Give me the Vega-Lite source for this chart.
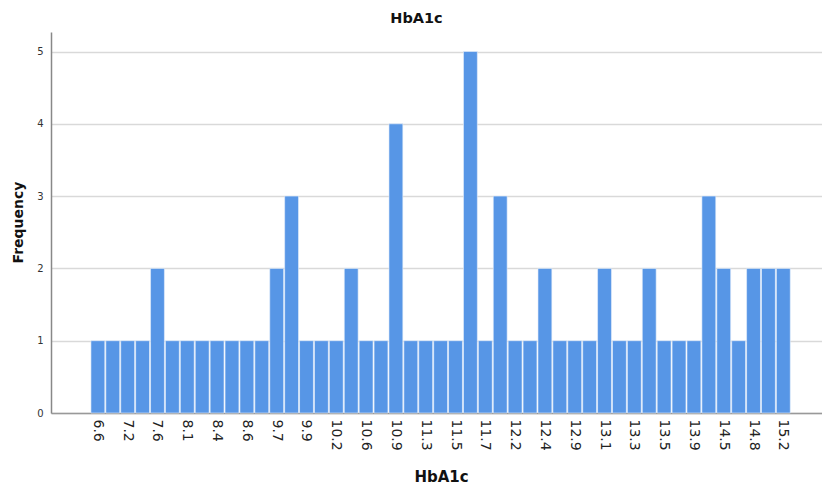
{
  "$schema": "https://vega.github.io/schema/vega-lite/v6.json",
  "autosize": "none",
  "width": 771,
  "height": 381,
  "padding": {"left": 51, "top": 32, "right": 0, "bottom": 73},
  "background": "white",
  "title": {"text": "HbA1c", "fontSize": 14.5, "font": "DejaVu Sans", "fontWeight": "bold", "color": "#111111", "anchor": "middle", "dx": -20, "offset": 6},
  "data": {"values": [
    {"HbA1c": 6.6, "Frequency": 1},
    {"HbA1c": 6.9, "Frequency": 1},
    {"HbA1c": 7.2, "Frequency": 1},
    {"HbA1c": 7.4, "Frequency": 1},
    {"HbA1c": 7.6, "Frequency": 2},
    {"HbA1c": 7.9, "Frequency": 1},
    {"HbA1c": 8.1, "Frequency": 1},
    {"HbA1c": 8.2, "Frequency": 1},
    {"HbA1c": 8.4, "Frequency": 1},
    {"HbA1c": 8.5, "Frequency": 1},
    {"HbA1c": 8.6, "Frequency": 1},
    {"HbA1c": 9.2, "Frequency": 1},
    {"HbA1c": 9.7, "Frequency": 2},
    {"HbA1c": 9.8, "Frequency": 3},
    {"HbA1c": 9.9, "Frequency": 1},
    {"HbA1c": 10.0, "Frequency": 1},
    {"HbA1c": 10.2, "Frequency": 1},
    {"HbA1c": 10.4, "Frequency": 2},
    {"HbA1c": 10.6, "Frequency": 1},
    {"HbA1c": 10.8, "Frequency": 1},
    {"HbA1c": 10.9, "Frequency": 4},
    {"HbA1c": 11.1, "Frequency": 1},
    {"HbA1c": 11.3, "Frequency": 1},
    {"HbA1c": 11.4, "Frequency": 1},
    {"HbA1c": 11.5, "Frequency": 1},
    {"HbA1c": 11.6, "Frequency": 5},
    {"HbA1c": 11.7, "Frequency": 1},
    {"HbA1c": 12.0, "Frequency": 3},
    {"HbA1c": 12.2, "Frequency": 1},
    {"HbA1c": 12.3, "Frequency": 1},
    {"HbA1c": 12.4, "Frequency": 2},
    {"HbA1c": 12.6, "Frequency": 1},
    {"HbA1c": 12.9, "Frequency": 1},
    {"HbA1c": 13.0, "Frequency": 1},
    {"HbA1c": 13.1, "Frequency": 2},
    {"HbA1c": 13.2, "Frequency": 1},
    {"HbA1c": 13.3, "Frequency": 1},
    {"HbA1c": 13.4, "Frequency": 2},
    {"HbA1c": 13.5, "Frequency": 1},
    {"HbA1c": 13.7, "Frequency": 1},
    {"HbA1c": 13.9, "Frequency": 1},
    {"HbA1c": 14.2, "Frequency": 3},
    {"HbA1c": 14.5, "Frequency": 2},
    {"HbA1c": 14.6, "Frequency": 1},
    {"HbA1c": 14.8, "Frequency": 2},
    {"HbA1c": 15.0, "Frequency": 2},
    {"HbA1c": 15.2, "Frequency": 2}
  ]},
  "mark": {"type": "bar", "color": "#5796e6", "stroke": "#e8f0fb", "strokeWidth": 0.6},
  "encoding": {
    "x": {
      "field": "HbA1c",
      "type": "ordinal",
      "scale": {
        "domain": [6.2, 6.4, 6.6, 6.9, 7.2, 7.4, 7.6, 7.9, 8.1, 8.2, 8.4, 8.5, 8.6, 9.2, 9.7, 9.8, 9.9, 10.0, 10.2, 10.4, 10.6, 10.8, 10.9, 11.1, 11.3, 11.4, 11.5, 11.6, 11.7, 12.0, 12.2, 12.3, 12.4, 12.6, 12.9, 13.0, 13.1, 13.2, 13.3, 13.4, 13.5, 13.7, 13.9, 14.2, 14.5, 14.6, 14.8, 15.0, 15.2, 15.4, 15.6],
        "paddingInner": 0.07, "paddingOuter": 0.405, "align": 0.84
      },
      "axis": {
        "values": [6.6, 7.2, 7.6, 8.1, 8.4, 8.6, 9.7, 9.9, 10.2, 10.6, 10.9, 11.3, 11.5, 11.7, 12.2, 12.4, 12.9, 13.1, 13.3, 13.5, 13.9, 14.5, 14.8, 15.2],
        "labelAngle": 90,
        "labelAlign": "left",
        "labelBaseline": "middle",
        "labelFont": "DejaVu Sans",
        "labelFontSize": 14,
        "labelColor": "#222222",
        "labelPadding": 6,
        "ticks": false,
        "domainColor": "#999999",
        "domainWidth": 1.5,
        "title": "HbA1c",
        "titleFont": "DejaVu Sans",
        "titleFontSize": 15,
        "titleFontWeight": "bold",
        "titleColor": "#111111",
        "titleY": 63,
        "titleX": 390,
        "titleBaseline": "middle"
      }
    },
    "y": {
      "field": "Frequency",
      "type": "quantitative",
      "scale": {"domain": [0, 5.27], "nice": false},
      "axis": {
        "values": [0, 1, 2, 3, 4, 5],
        "grid": true,
        "gridColor": "#d9d9d9",
        "gridWidth": 1.5,
        "ticks": false,
        "domainColor": "#888888",
        "domainWidth": 1.5,
        "labelFont": "DejaVu Sans",
        "labelFontSize": 10,
        "labelColor": "#333333",
        "labelPadding": 8,
        "title": "Frequency",
        "titleFont": "DejaVu Sans",
        "titleFontSize": 14,
        "titleFontWeight": "bold",
        "titleColor": "#111111",
        "titleX": -33,
        "titleY": 190,
        "titleAlign": "center",
        "titleBaseline": "middle"
      }
    }
  },
  "config": {"view": {"stroke": null}}
}
